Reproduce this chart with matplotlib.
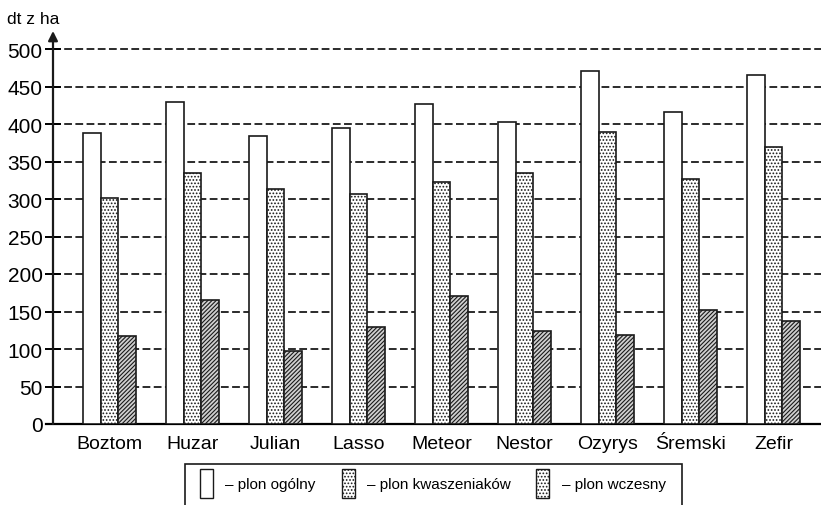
import matplotlib

matplotlib.use("Agg")
import matplotlib.pyplot as plt
import numpy as np
from matplotlib.patches import Patch, Rectangle

# Potato varieties and yields (dt z ha)
odmiany = ["Boztom", "Huzar", "Julian", "Lasso", "Meteor", "Nestor", "Ozyrys", "Śremski", "Zefir"]
plon_ogolny = [388, 429, 384, 395, 427, 403, 471, 416, 466]
plon_kwaszeniakow = [302, 335, 313, 307, 323, 335, 389, 327, 369]
plon_wczesny = [117, 165, 97, 130, 171, 124, 119, 152, 138]

yticks = list(range(0, 501, 50))

plt.rcParams["font.family"] = ["Liberation Sans", "DejaVu Sans"]
plt.rcParams["hatch.linewidth"] = 0.8

fig = plt.figure(figsize=(8.21, 5.06), dpi=100)
ax = fig.add_axes([53 / 821, 1 - 425 / 506, 768 / 821, 393 / 506])

x = np.arange(len(odmiany))
w = 0.212
bar_kw = dict(width=w, edgecolor="#1a1a1a", linewidth=1.2, zorder=3)
ax.bar(x - w, plon_ogolny, facecolor="white", **bar_kw)
ax.bar(x, plon_kwaszeniakow, facecolor="white", hatch=".....", **bar_kw)
ax.bar(x + w, plon_wczesny, facecolor="#cfcfcf", hatch="////////", **bar_kw)

ax.set_xlim(-0.68, 8.57)
ax.set_ylim(0, 524)

# dashed horizontal guides
ax.set_yticks(yticks)
ax.yaxis.grid(True, color="#1a1a1a", linewidth=1.3, dashes=(4.3, 1.9), zorder=1)
ax.set_axisbelow(True)

ax.set_xticks(x)
ax.set_xticklabels(odmiany, fontsize=14)
ax.tick_params(axis="x", length=0, pad=8)
ax.tick_params(axis="y", direction="inout", length=11, width=1.4, labelsize=15, pad=2)

for side in ("top", "right", "left"):
    ax.spines[side].set_visible(False)
ax.spines["bottom"].set_linewidth(1.6)
ax.spines["bottom"].set_bounds(-0.77, 8.57)

# y axis drawn as an arrow
ax.annotate("", xy=(0, 1.0), xytext=(0, 0), xycoords="axes fraction",
            arrowprops=dict(arrowstyle="-|>", color="#1a1a1a", lw=1.6, mutation_scale=14,
                            shrinkA=0, shrinkB=0), annotation_clip=False)
fig.text(33 / 821, 1 - 20 / 506, "dt z ha", fontsize=12.5, ha="center", va="center")

handles = [
    Patch(facecolor="white", edgecolor="#1a1a1a", linewidth=1.0),
    Patch(facecolor="white", edgecolor="#1a1a1a", linewidth=1.0, hatch="....."),
    Patch(facecolor="white", edgecolor="#1a1a1a", linewidth=1.0, hatch="....."),
]
labels = ["– plon ogólny", "– plon kwaszeniaków", "– plon wczesny"]
fig.legend(handles, labels, loc="upper left", bbox_to_anchor=(200 / 821, 1 - 470 / 506),
           ncol=3, frameon=False, borderpad=0, borderaxespad=0,
           prop={"size": 11},
           handlelength=0.85, handleheight=2.5, handletextpad=0.8, columnspacing=1.7)
fig.patches.append(Rectangle((185 / 821, -0.05), (682 - 185) / 821, (1 - 465 / 506) + 0.05,
                             transform=fig.transFigure, fill=False, edgecolor="#1a1a1a",
                             linewidth=1.2))

fig.savefig("out.png", dpi=100)
